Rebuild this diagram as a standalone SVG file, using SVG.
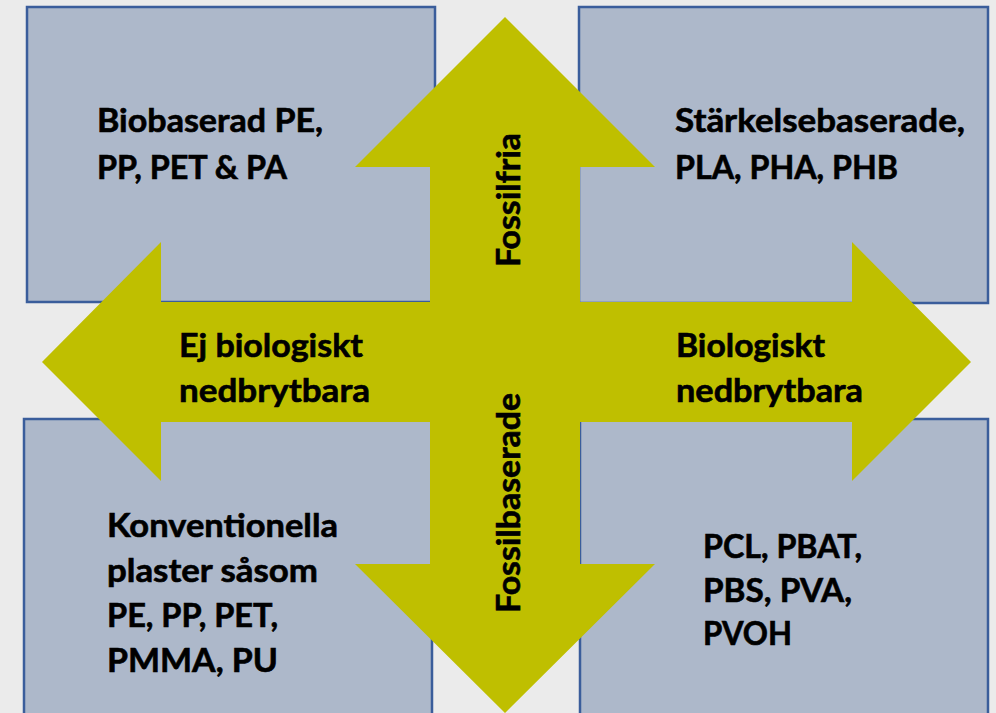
<svg xmlns="http://www.w3.org/2000/svg" width="996" height="713" viewBox="0 0 996 713">
<style>
.box{fill:#adb8ca;stroke:#3a5d9b;stroke-width:2.5}
.arrow{fill:#bfbf00}
text{font-family:Lato,"Open Sans","Liberation Sans",sans-serif;font-weight:bold;font-size:32px;fill:#000;stroke:#000;stroke-width:0.6}
</style>
<rect x="0" y="0" width="996" height="713" fill="#ebebeb"/>
<g id="box-tl">
<rect class="box" x="27" y="7" width="408" height="295"/>
<text x="97" y="132" textLength="226" lengthAdjust="spacingAndGlyphs">Biobaserad PE,</text>
<text x="97" y="179" textLength="190" lengthAdjust="spacingAndGlyphs">PP, PET &amp; PA</text>
</g>
<g id="box-tr">
<rect class="box" x="579" y="7" width="409" height="296"/>
<text x="675" y="132" textLength="290" lengthAdjust="spacingAndGlyphs">Stärkelsebaserade,</text>
<text x="675" y="179" textLength="223" lengthAdjust="spacingAndGlyphs">PLA, PHA, PHB</text>
</g>
<g id="box-bl">
<rect class="box" x="24" y="419" width="408" height="300"/>
<text x="107" y="537" textLength="231" lengthAdjust="spacingAndGlyphs">Konventionella</text>
<text x="107" y="582" textLength="211" lengthAdjust="spacingAndGlyphs">plaster såsom</text>
<text x="107" y="627" textLength="171" lengthAdjust="spacingAndGlyphs">PE, PP, PET,</text>
<text x="107" y="672" textLength="171" lengthAdjust="spacingAndGlyphs">PMMA, PU</text>
</g>
<g id="box-br">
<rect class="box" x="580" y="419" width="408" height="300"/>
<text x="703" y="558" textLength="159" lengthAdjust="spacingAndGlyphs">PCL, PBAT,</text>
<text x="703" y="602" textLength="149" lengthAdjust="spacingAndGlyphs">PBS, PVA,</text>
<text x="703" y="645" textLength="89" lengthAdjust="spacingAndGlyphs">PVOH</text>
</g>
<g id="connectors">
<polygon class="arrow" points="505,17 655,167 580,167 580,302 852,302 852,242 971,362 852,481 852,422 580,422 580,564 655,564 505,713 355,564 430,564 430,422 161,422 161,481 42,362 161,242 161,302 430,302 430,167 355,167"/>
<text x="179" y="357" textLength="184" lengthAdjust="spacingAndGlyphs">Ej biologiskt</text>
<text x="179" y="402" textLength="191" lengthAdjust="spacingAndGlyphs">nedbrytbara</text>
<text x="676" y="357" textLength="149" lengthAdjust="spacingAndGlyphs">Biologiskt</text>
<text x="676" y="402" textLength="187" lengthAdjust="spacingAndGlyphs">nedbrytbara</text>
<text transform="translate(520,267) rotate(-90)" textLength="134" lengthAdjust="spacingAndGlyphs">Fossilfria</text>
<text transform="translate(520,613) rotate(-90)" textLength="220" lengthAdjust="spacingAndGlyphs">Fossilbaserade</text>
</g>
</svg>
